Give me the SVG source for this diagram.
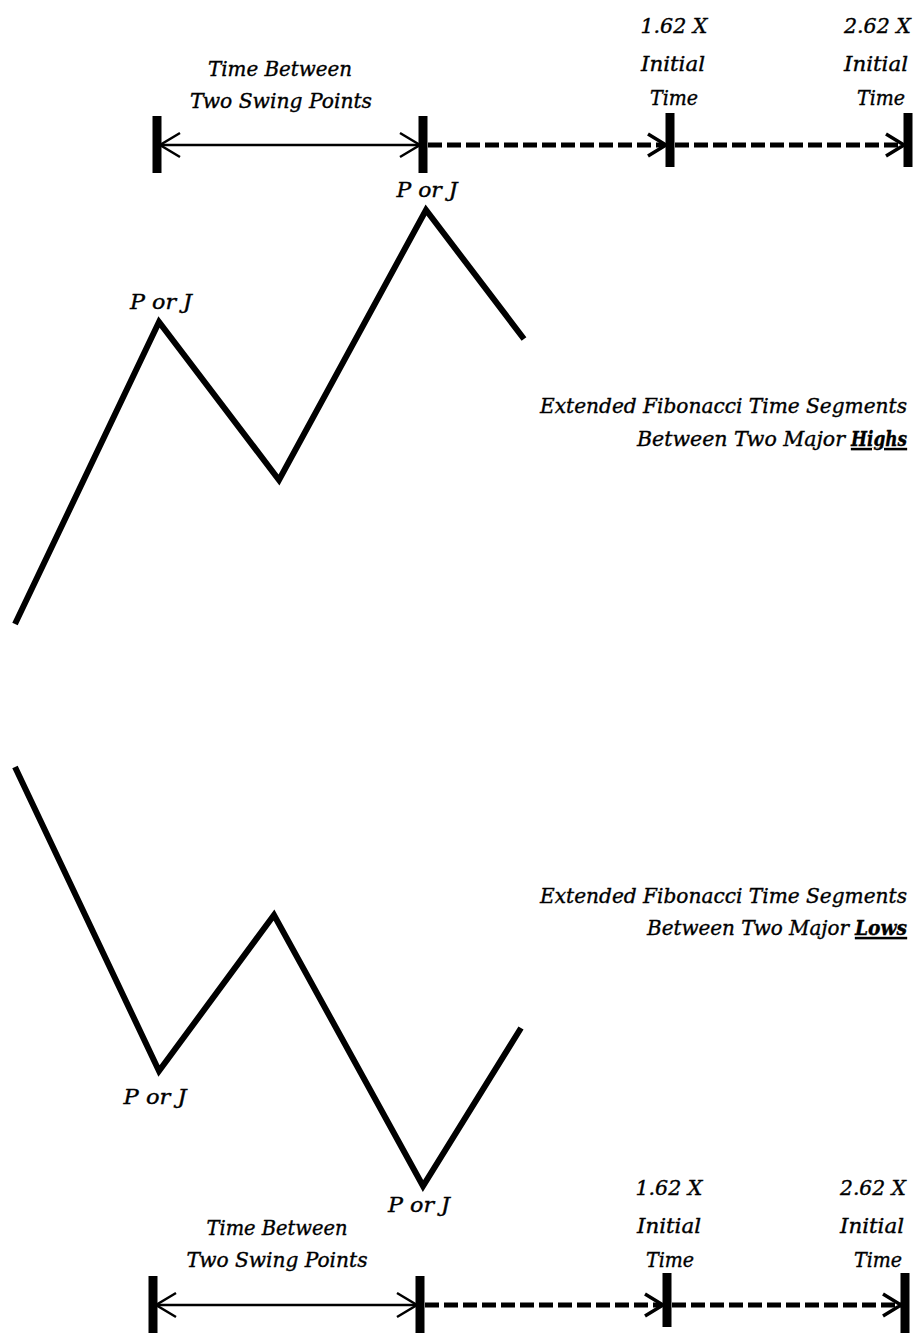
<svg xmlns="http://www.w3.org/2000/svg" width="913" height="1333" viewBox="0 0 913 1333">
<defs>
<style>
text{font-family:"DejaVu Serif Condensed","DejaVu Serif","Liberation Serif",serif;font-stretch:condensed;font-style:italic;font-size:21px;fill:#000;stroke:#000;stroke-width:0.35}
.mid{text-anchor:middle}
.end{text-anchor:end}
.em{font-weight:bold;text-decoration:underline}
.zig{fill:none;stroke:#000;stroke-width:6;stroke-linejoin:miter;stroke-linecap:butt}
.tick{stroke:#000;stroke-width:9}
.solid{stroke:#000;stroke-width:2.5;fill:none}
.dash{stroke:#000;stroke-width:5;stroke-dasharray:14 5;fill:none}
.head{stroke:#000;stroke-width:2.5;fill:none}
.headd{stroke:#000;stroke-width:3.5;fill:none}
</style>
</defs>
<rect width="913" height="1333" fill="#fff"/>

<g id="connectors">
<line class="solid" x1="157" y1="145" x2="423" y2="145"/>
<polyline class="head" points="180,133 160,145 180,157"/>
<polyline class="head" points="400,133 420,145 400,157"/>
<line class="dash" x1="428" y1="145" x2="664" y2="145"/>
<polyline class="headd" points="648,134 666,145 648,156"/>
<line class="dash" x1="675" y1="145" x2="903" y2="145"/>
<polyline class="headd" points="886,134 904,145 886,156"/>
<line class="tick" x1="157" y1="116" x2="157" y2="173"/>
<line class="tick" x1="423" y1="116" x2="423" y2="173"/>
<line class="tick" x1="670" y1="113" x2="670" y2="167"/>
<line class="tick" x1="908" y1="113" x2="908" y2="167"/>

<line class="solid" x1="153" y1="1305" x2="420" y2="1305"/>
<polyline class="head" points="176,1293 156,1305 176,1317"/>
<polyline class="head" points="397,1293 417,1305 397,1317"/>
<line class="dash" x1="425" y1="1305" x2="661" y2="1305"/>
<polyline class="headd" points="645,1294 663,1305 645,1316"/>
<line class="dash" x1="672" y1="1305" x2="901" y2="1305"/>
<polyline class="headd" points="883,1294 901,1305 883,1316"/>
<line class="tick" x1="153" y1="1276" x2="153" y2="1333"/>
<line class="tick" x1="420" y1="1276" x2="420" y2="1333"/>
<line class="tick" x1="667" y1="1273" x2="667" y2="1327"/>
<line class="tick" x1="905" y1="1273" x2="905" y2="1333"/>
</g>

<g id="highs-chart">
<polyline class="zig" points="15,624 159,322 279,480 426,210 524,339"/>
</g>
<g id="lows-chart">
<polyline class="zig" points="15,767 159,1071 274,915 423,1186 521,1028"/>
</g>

<g id="top-labels">
<text class="mid" x="280" y="76" textLength="144" lengthAdjust="spacingAndGlyphs">Time Between</text>
<text class="mid" x="281" y="108" textLength="182" lengthAdjust="spacingAndGlyphs">Two Swing Points</text>
<text class="mid" x="427" y="197" textLength="61" lengthAdjust="spacingAndGlyphs">P or J</text>
<text class="mid" x="674" y="33" textLength="67" lengthAdjust="spacingAndGlyphs">1.62 X</text>
<text class="mid" x="673" y="71" textLength="64" lengthAdjust="spacingAndGlyphs">Initial</text>
<text class="mid" x="674" y="105" textLength="48" lengthAdjust="spacingAndGlyphs">Time</text>
<text class="end" x="911" y="33" textLength="67" lengthAdjust="spacingAndGlyphs">2.62 X</text>
<text class="end" x="908" y="71" textLength="64" lengthAdjust="spacingAndGlyphs">Initial</text>
<text class="end" x="905" y="105" textLength="48" lengthAdjust="spacingAndGlyphs">Time</text>
</g>

<g id="highs-labels">
<text class="mid" x="161" y="309" textLength="62" lengthAdjust="spacingAndGlyphs">P or J</text>
<text class="end" x="907" y="413" textLength="367" lengthAdjust="spacingAndGlyphs">Extended Fibonacci Time Segments</text>
<text class="end" x="845" y="446" textLength="208" lengthAdjust="spacingAndGlyphs">Between Two Major</text>
<text class="em" x="851" y="446" textLength="56" lengthAdjust="spacingAndGlyphs">Highs</text>
</g>

<g id="lows-labels">
<text class="end" x="907" y="903" textLength="367" lengthAdjust="spacingAndGlyphs">Extended Fibonacci Time Segments</text>
<text class="end" x="849" y="935" textLength="202" lengthAdjust="spacingAndGlyphs">Between Two Major</text>
<text class="em" x="855" y="935" textLength="52" lengthAdjust="spacingAndGlyphs">Lows</text>
<text class="mid" x="155" y="1104" textLength="63" lengthAdjust="spacingAndGlyphs">P or J</text>
<text class="mid" x="419" y="1212" textLength="62" lengthAdjust="spacingAndGlyphs">P or J</text>
</g>

<g id="bottom-labels">
<text class="mid" x="277" y="1235" textLength="141" lengthAdjust="spacingAndGlyphs">Time Between</text>
<text class="mid" x="277" y="1267" textLength="181" lengthAdjust="spacingAndGlyphs">Two Swing Points</text>
<text class="mid" x="669" y="1195" textLength="67" lengthAdjust="spacingAndGlyphs">1.62 X</text>
<text class="mid" x="669" y="1233" textLength="64" lengthAdjust="spacingAndGlyphs">Initial</text>
<text class="mid" x="670" y="1267" textLength="48" lengthAdjust="spacingAndGlyphs">Time</text>
<text class="end" x="906" y="1195" textLength="66" lengthAdjust="spacingAndGlyphs">2.62 X</text>
<text class="end" x="904" y="1233" textLength="64" lengthAdjust="spacingAndGlyphs">Initial</text>
<text class="end" x="902" y="1267" textLength="48" lengthAdjust="spacingAndGlyphs">Time</text>
</g>
</svg>
